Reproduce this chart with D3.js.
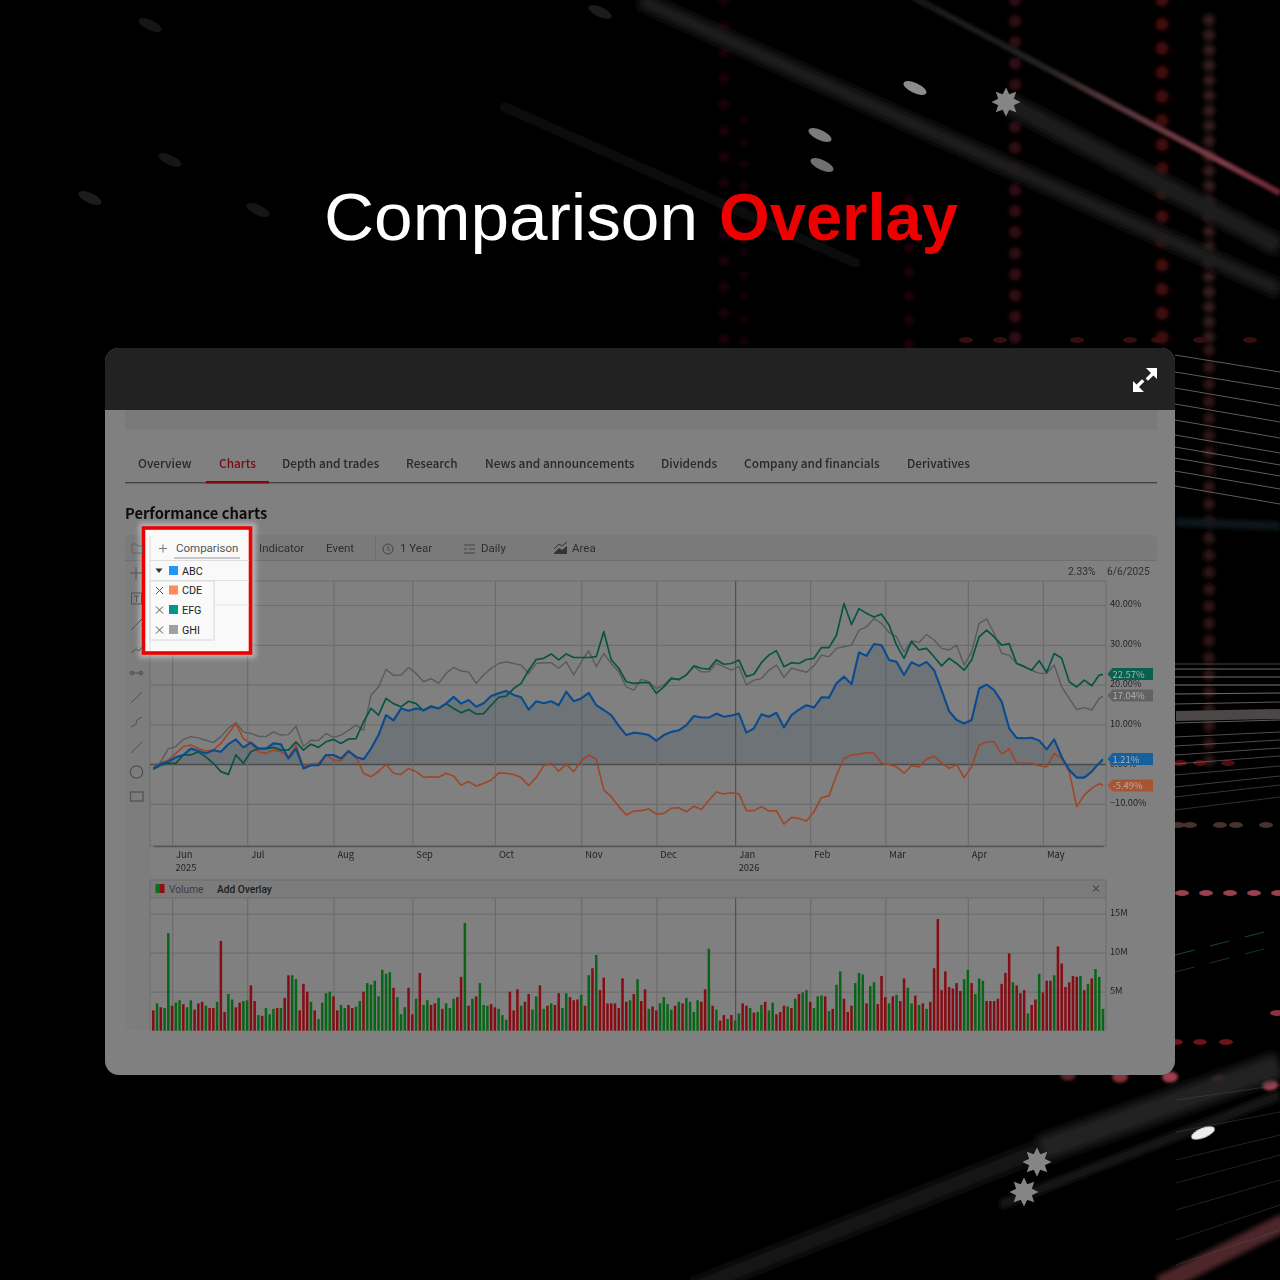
<!DOCTYPE html>
<html><head><meta charset="utf-8">
<script src="https://cdn.jsdelivr.net/npm/d3@7"></script>
<style>html,body{margin:0;padding:0;background:#000}svg{display:block}</style>
</head><body><div id="c"></div>
<script>
// ---------- chart data ----------
const abc=[-1.1,0,.6,1.7,2.3,3.9,3.3,2.7,3.5,3.1,5.0,6.2,4.2,5.4,3.9,3.9,5.2,5.0,1.4,3.9,-1.1,-.3,-.3,2.3,2.3,1.4,3.3,1.8,1.2,3.9,7.3,12.3,11.0,14.0,13.4,14.0,13.6,14.4,14.0,15.2,16.9,15.2,16.1,14.4,
15.3,17.1,17.8,18.4,17.4,16.8,13.7,15.8,15.3,15.8,14.8,18.2,15.8,16.5,17.9,14.8,13.6,12.3,9.6,7.3,7.9,7.7,7.3,5.9,7.3,8.1,8.5,9.8,12.1,11.7,11.7,12.7,11.9,12.2,12.7,7.9,9.0,12.5,11.9,12.9,9.2,12.3,13.7,
14.8,14.2,16.8,16.7,20.3,22.0,20.1,28.1,27.2,30.2,29.9,26.2,25.7,22.4,25.6,24.7,25.7,23.6,18.6,13.3,11.1,10.2,11.1,19.0,20.0,18.6,15.7,9.0,6.6,6.5,6.6,5.9,3.7,6.2,1.8,-1.5,-3.4,-3.4,-1.9,.3,1.2];
const ghi=[-1.1,.6,3.9,4.4,6.2,6.9,6.6,6.0,5.4,6.9,9.0,10.4,8.1,7.7,7.0,6.9,8.1,7.3,7.4,9.5,4.4,6.0,5.9,7.7,6.7,7.3,8.5,9.8,8.5,17.3,19.4,23.8,22.3,22.4,24.3,22.8,20.7,21.5,20.3,22.8,24.3,23.4,23.2,20.3,
22.4,24.1,25.3,25.7,25.3,24.9,22.8,25.3,25.5,25.5,24.1,25.7,22.4,25.7,28.5,24.5,27.8,25.3,23.2,19.4,18.6,21.3,20.7,19.0,19.9,21.8,21.1,22.4,24.5,23.2,23.2,25.3,24.5,23.6,24.6,19.9,21.1,21.5,23.6,24.9,21.8,24.1,23.6,
23.1,24.7,27.4,27.0,29.1,29.5,29.9,33.7,34.5,36.6,35.4,33.1,32.0,28.2,31.0,30.6,32.6,31.2,29.1,28.7,29.9,24.9,28.2,35.4,36.5,32.9,27.8,27.4,25.3,24.6,23.6,22.8,22.8,24.9,19.4,16.5,13.7,14.2,13.6,16.5,17.1];
const efg=[-1.3,-.3,.2,.2,2.3,2.3,3.1,1.8,.2,-1.9,-2.6,2.3,.2,3.1,3.9,3.9,4.2,3.5,3.5,5.6,3.5,5.0,4.2,5.6,6.2,5.2,6.3,6.4,10.6,14.0,12.3,16.5,15.2,14.4,15.8,15.2,13.4,14.6,14.0,15.2,14.0,12.9,13.7,12.6,
12.7,14.8,16.8,17.1,19.0,20.3,23.6,26.3,26.6,27.7,26.2,27.7,26.8,26.8,26.8,27.0,33.3,26.2,24.1,20.7,20.3,20.5,20.5,17.8,19.4,21.5,21.3,22.4,24.7,24.1,23.9,26.2,25.1,25.3,26.2,22.0,22.6,25.5,27.4,28.5,24.5,25.5,25.3,
26.3,26.6,29.3,29.3,32.4,40.4,35.1,39.1,37.9,37.0,37.7,35.0,29.9,26.6,30.8,28.7,29.1,27.0,24.7,26.6,25.3,23.6,26.2,32.0,33.7,32.0,29.9,30.3,25.3,24.5,23.6,26.0,23.1,27.8,26.6,20.7,19.4,21.1,19.7,22.4,22.5];
const cde=[-1.1,.2,1.0,2.7,4.4,4.8,3.9,3.3,3.5,5.2,7.7,10.2,6.4,5.2,3.1,2.7,3.5,3.1,1.8,4.8,-.8,0,.2,2.3,1.0,.8,3.1,1.8,-2.3,-3.2,-1.8,-.1,-2.3,-2.6,-1.1,-1.9,-3.3,-3.2,-3.3,-2.3,-3.0,-5.3,-4.4,-5.5,
-4.9,-4.0,-2.2,-2.3,-2.6,-3.4,-5.4,-3.4,-.4,.2,-1.8,0,-1.9,.8,2.3,1.2,-6.5,-8.2,-10.7,-12.8,-11.8,-11.7,-11.3,-12.6,-12.4,-11.1,-11.0,-12.0,-10.6,-11.4,-9.1,-7.0,-7.5,-7.2,-7.5,-11.7,-11.7,-10.7,-11.8,-11.7,-15.1,-13.4,-13.7,
-14.3,-12.0,-8.4,-8.0,-2.8,1.4,2.3,2.5,2.9,2.7,.2,-.1,-.7,-2.3,-.4,-.7,1.3,2.0,.3,-1.1,-.1,-3.4,-.7,4.8,5.6,5.6,2.5,3.8,.2,.2,.2,-.4,-.7,2.7,1.4,-1.9,-10.7,-7.8,-6.1,-4.9,-5.4];
// trading-day index of each series sample: every second session, plus the final session
const sessions=d3.range(0,253,2).concat([253]);
const volume=[2.6,3.5,3.0,2.9,12.5,3.2,3.6,3.9,3.4,3.0,3.9,2.7,3.5,3.7,3.2,2.9,2.9,3.7,11.5,2.4,4.7,4.0,3.0,3.6,3.8,3.9,5.8,3.8,2.0,1.9,2.9,2.1,2.8,2.9,2.9,4.2,7.1,7.1,6.6,2.6,6.0,5.0,3.7,2.6,1.5,3.6,4.8,5.0,4.4,2.6,3.3,2.9,3.3,2.9,3.1,3.8,5.0,6.1,5.9,6.4,4.4,7.8,7.3,7.5,5.5,4.3,2.1,3.0,5.5,2.1,4.1,7.4,3.3,3.9,3.3,3.5,4.2,2.8,3.5,2.9,4.1,4.3,6.9,13.8,3.2,4.1,4.4,6.1,3.3,3.2,3.4,3.0,2.8,2.0,1.4,5.0,2.6,5.3,3.2,3.7,4.7,2.7,4.4,5.8,2.8,3.2,3.5,3.3,4.8,2.9,4.8,4.3,3.9,4.0,4.6,3.2,7.1,8.0,9.7,5.2,6.8,3.5,3.5,3.5,2.9,6.7,3.7,3.9,4.7,6.6,3.8,5.3,2.8,3.1,2.6,3.5,4.3,3.4,2.7,3.2,3.7,3.5,4.2,3.7,2.4,3.9,3.7,5.3,10.5,3.2,2.7,1.3,2.0,1.5,2.0,1.3,2.2,3.5,3.2,2.9,2.3,2.4,3.3,3.7,2.6,3.6,2.1,2.4,3.2,3.1,2.9,4.1,4.7,4.9,5.2,3.7,2.9,4.4,4.5,4.4,2.5,2.8,5.9,7.6,4.1,2.4,3.2,6.1,7.4,7.2,3.5,5.7,6.2,3.4,7.0,4.3,3.5,4.4,4.6,3.8,6.7,5.5,3.5,4.5,3.3,3.5,2.8,3.7,8.0,14.3,5.2,7.6,5.6,5.4,6.1,5.1,6.6,7.8,6.1,4.7,6.7,6.4,3.8,3.8,3.8,4.1,6.0,7.4,9.9,6.2,5.8,4.8,5.2,2.2,3.3,4.0,7.3,4.9,6.4,6.4,7.1,10.8,8.6,5.6,6.2,7.0,6.9,7.0,5.2,6.0,6.7,7.9,6.9,2.8];
const volumeDir=["rgrggrggrg","grrrgrrgrr","ggrrggrrgr","gggrgrrggr","rrgrggggrr","ggrrggrggg","ggggrgggrr","grggrrgrgg","grrgrgrggg","rrgggrrrgr","rggrgrgrrg","grrrgrgrgr","rrrrrrrgrg","rrgrrggggr","grggggrrgr","grrgrggrrg","rggrggrrrg","rgrggrgggr","grggrrrggg","rggrrrgrgr","rggrgrgrrr","rrrrrrggrg","ggrrrrrrrg","rrrgrrgrrr","grrrrrrgrg","rggg"].join("");
const monthIdx=[5,25,48,69,91,114,134,155,175,195,217,237];
const monthLabels=["Jun","Jul","Aug","Sep","Oct","Nov","Dec","Jan","Feb","Mar","Apr","May"];
const pctTicks=[-10,0,10,20,30,40];
const volTicks=[5,10,15];
const tabs=["Overview","Charts","Depth and trades","Research","News and announcements","Dividends","Company and financials","Derivatives"];
const legendNames=["ABC","CDE","EFG","GHI"];
const legendColors=["#2196f3","#ff8a5c","#009688","#a0a0a0"];
const lineColors={abc:"#0a4a8e",cde:"#a04526",efg:"#065544",ghi:"#5a5a5a"};

const W=1280,svg=d3.select("#c").append("svg").attr("width",W).attr("height",W).attr("viewBox","0 0 1280 1280");
const defs=svg.append("defs");
[["b05",.7],["b1",1.6],["b2",2.8],["b3",4.5],["b4",7]].forEach(([id,s])=>defs.append("filter").attr("id",id).attr("filterUnits","userSpaceOnUse").attr("x",0).attr("y",0).attr("width",W).attr("height",W).append("feGaussianBlur").attr("stdDeviation",s));
const pg=defs.append("linearGradient").attr("id","pink").attr("gradientUnits","userSpaceOnUse").attr("x1",917).attr("y1",0).attr("x2",1280).attr("y2",193);
[[0,"#181818"],[.35,"#222"],[.5,"#4e3438"],[.85,"#803a46"],[1,"#6e2430"]].forEach(([o,c])=>pg.append("stop").attr("offset",o).attr("stop-color",c));

// ---------- backdrop ----------
svg.append("rect").attr("width",W).attr("height",W).attr("fill","#000");
const bg=svg.append("g");
// dotted red columns: x, y start, y end, dash gap, width, colour
[[724,0,345,26,11,"#1c0608"],[744,120,345,22,9,"#160507"],[909,200,345,24,10,"#200608"],[1015,0,345,21,12,"#361014"],[1162,0,345,24,13,"#440a0d"],[1209,20,345,15,12,"#361a1e"],[1209,350,770,17,12,"#2e1417"]]
.forEach(d=>bg.append("line").attr("x1",d[0]).attr("x2",d[0]).attr("y1",d[1]).attr("y2",d[2]).attr("stroke",d[5]).attr("stroke-width",d[4]).attr("stroke-linecap","round").attr("stroke-dasharray",`0.1 ${d[3]}`).attr("filter","url(#b2)"));
// scattered coloured dashes: y, colour, x list
[[340,"#380c10",[966,1000,1077,1130,1158,1200,1250]],[763,"#520a0e",[1180,1200,1228]],[825,"#46302f",[1178,1190,1220,1236,1266]],[893,"#94424e",[1182,1206,1230,1254,1278]],[1013,"#8c3240",[1277]],[1042,"#6a1219",[1176,1200,1226]]]
.forEach(d=>d[2].forEach(cx=>bg.append("ellipse").attr("cx",cx).attr("cy",d[0]).attr("rx",7).attr("ry",3).attr("fill",d[1]).attr("filter","url(#b05)")));
[[1068,1075,"#5a2028"],[1120,1077,"#83323e"],[1170,1077,"#a03e4e"],[1220,1081,"#a8404e"],[1270,1085,"#b04a5a"]].forEach(d=>bg.append("ellipse").attr("cx",d[0]).attr("cy",d[1]).attr("rx",8).attr("ry",5.5).attr("fill",d[2]).attr("filter","url(#b1)"));
// wide streaks
[[640,0,1280,290,16,"#1b1b1b","b3"],[1006,102,1280,247,20,"#1d1d1d","b3"],[900,-10,1280,193,6,"url(#pink)","b1"],[500,105,860,265,10,"#0b0b0b","b3"],[690,1290,1040,1150,18,"#191919","b3"],[1040,1150,1280,1065,26,"#242424","b3"],[1000,1205,1280,1095,10,"#181818","b2"],[1160,1285,1285,1222,18,"#4e252c","b2"],[1176,716,1280,714,10,"#4c4646","b05"],[1176,522,1280,526,9,"#0a171a","b2"]]
.forEach(d=>bg.append("line").attr("x1",d[0]).attr("y1",d[1]).attr("x2",d[2]).attr("y2",d[3]).attr("stroke",d[5]).attr("stroke-width",d[4]).attr("filter",`url(#${d[6]})`));
// fine light lines at the right edge
[[355,17],[372,17],[388,18],[404,18],[420,18],[435,18],[447,18],[458,18],[471,18],[486,18]].forEach(d=>bg.append("line").attr("x1",1175).attr("y1",d[0]).attr("x2",1280).attr("y2",d[0]+d[1]).attr("stroke","#8a8a8a").attr("stroke-width",.9).attr("opacity",.75));
[[664,664,.45],[669,669,.7],[677,677,.7],[685,685,.8],[694,693,.7],[704,702,.6],[723,720,.6],[737,732,.5],[746,740,.5],[755,748,.5],[764,756,.45],[775,766,.4],[787,776,.4],[797,785,.35],[810,797,.3]].forEach(d=>bg.append("line").attr("x1",1175).attr("y1",d[0]).attr("x2",1280).attr("y2",d[1]).attr("stroke","#aaa").attr("stroke-width",.9).attr("opacity",d[2]));
[[1100,1085],[1132,1112],[1160,1135],[1183,1155],[1210,1180],[1240,1205],[1265,1230]].forEach(d=>bg.append("line").attr("x1",1176).attr("y1",d[0]).attr("x2",1280).attr("y2",d[1]).attr("stroke","#555").attr("stroke-width",.8).attr("opacity",.5));
[[1175,955,1280,928,"#2c6a78"],[1175,972,1280,945,"#1f4e58"]].forEach(d=>bg.append("line").attr("x1",d[0]).attr("y1",d[1]).attr("x2",d[2]).attr("y2",d[3]).attr("stroke",d[4]).attr("stroke-width",1.1).attr("opacity",.6).attr("stroke-dasharray","20 16"));
// pale blurred pills (filter on the group so rotation does not shift its region)
const pills=bg.append("g").attr("filter","url(#b05)");
[[915,88,"#8c8c8c"],[820,135,"#7c7c7c"],[822,165,"#707070"],[600,12,"#1c1c1c"],[150,25,"#161616"],[170,160,"#141414"],[90,198,"#1c1c1c"],[258,210,"#191919"],[1203,1133,"#eee"]]
.forEach(d=>pills.append("ellipse").attr("cx",d[0]).attr("cy",d[1]).attr("rx",12.5).attr("ry",5).attr("fill",d[2]).attr("transform",`rotate(${d[0]>1100?-22:25} ${d[0]} ${d[1]})`));
// stars
const starPts=d3.range(16).map(i=>[i*Math.PI/8,i%2?8.5:14.5]);
const starPath=d3.lineRadial().curve(d3.curveLinearClosed)(starPts);
const stars=bg.append("g").attr("filter","url(#b05)");
[[1006,102],[1037,1162],[1024,1192]].forEach(p=>stars.append("path").attr("d",starPath).attr("transform",`translate(${p[0]},${p[1]})`).attr("fill","#858585"));

// ---------- title ----------
const sans="'Liberation Sans',Arial,sans-serif";
svg.append("text").attr("x",324).attr("y",240).attr("font-family",sans).attr("font-size",66).attr("fill","#fff").attr("textLength",374).attr("lengthAdjust","spacingAndGlyphs").text("Comparison");
svg.append("text").attr("x",719).attr("y",240).attr("font-family",sans).attr("font-size",66).attr("font-weight",700).attr("fill","#ee0000").attr("textLength",239).attr("lengthAdjust","spacingAndGlyphs").text("Overlay");

// ---------- panel ----------
const cjk="'Noto Sans CJK SC','Noto Sans',sans-serif",rob="Roboto,sans-serif";
svg.append("rect").attr("x",105).attr("y",348).attr("width",1070).attr("height",727).attr("rx",14).attr("fill","#808080");
svg.append("path").attr("d","M105 410V362a14 14 0 0 1 14-14H1161a14 14 0 0 1 14 14V410Z").attr("fill","#222");
svg.append("path").attr("d","M1146 368h11v11l-3.600-3.600-5.400 5.400-2.400-2.400 5.400-5.400Z M1144 392h-11v-11l3.600 3.600 5.400-5.400 2.400 2.400-5.400 5.400Z").attr("fill","#fff");
svg.append("rect").attr("x",125).attr("y",410).attr("width",1032).attr("height",20).attr("fill","#7a7a7a");
const tabX=[138,219,282,406,485,661,744,907];
tabs.forEach((t,i)=>svg.append("text").attr("x",tabX[i]).attr("y",468).attr("font-family",cjk).attr("font-size",11.85).attr("font-weight",500).attr("fill",i==1?"#7a0a0e":"#282828").text(t));
svg.append("rect").attr("x",125).attr("y",482).attr("width",1032).attr("height",1.4).attr("fill","#444");
svg.append("rect").attr("x",206).attr("y",481).attr("width",63).attr("height",2.4).attr("fill","#7e0a0e");
svg.append("text").attr("x",125).attr("y",518.5).attr("font-family",cjk).attr("font-size",14.7).attr("font-weight",700).attr("fill","#0c0c0c").text("Performance charts");

// chart shell
svg.append("rect").attr("x",125).attr("y",535).attr("width",1032).attr("height",495).attr("rx",6).attr("fill","#7d7d7d");
svg.append("rect").attr("x",125).attr("y",535).attr("width",1032).attr("height",25).attr("rx",5).attr("fill","#7a7a7a");
svg.append("rect").attr("x",150).attr("y",560).attr("width",1007).attr("height",470).attr("fill","#808080");
svg.append("line").attr("x1",125).attr("x2",1157).attr("y1",560.5).attr("y2",560.5).attr("stroke","#6e6e6e");
svg.append("line").attr("x1",375.5).attr("x2",375.5).attr("y1",536).attr("y2",560).attr("stroke","#6c6c6c");
[["Indicator",259],["Event",326],["1 Year",400],["Daily",481],["Area",572]].forEach(d=>svg.append("text").attr("x",d[1]).attr("y",552).attr("font-family",rob).attr("font-size",11.5).attr("fill","#2e2e2e").text(d[0]));
svg.append("circle").attr("cx",388).attr("cy",549).attr("r",5).attr("fill","none").attr("stroke","#444");
svg.append("path").attr("d","M388 546v3.400l2 1.200").attr("fill","none").attr("stroke","#444");
svg.append("path").attr("d","M464 545h11M464 549h3M469 549h6M464 553h11").attr("stroke","#444").attr("fill","none");
svg.append("path").attr("d","M554 553l5-5 3 2 5-4v8h-13Z").attr("fill","#333");
svg.append("path").attr("d","M554 549l5-5 3 2 5-4").attr("fill","none").attr("stroke","#333");
svg.append("text").attr("x",1068).attr("y",575).attr("font-family",rob).attr("font-size",10.3).attr("fill","#2e2e2e").text("2.33%");
svg.append("text").attr("x",1107).attr("y",575).attr("font-family",rob).attr("font-size",10.2).attr("fill","#2e2e2e").text("6/6/2025");

// ---------- scales ----------
const xBottom=1106, plotTop=581, plotBot=846, volTop=898, volBot=1030.7;
const x=d3.scaleLinear().domain([0,253]).range([153.3,1103]);
const y=d3.scaleLinear().domain([-20.6,46.04]).range([plotBot,plotTop]);
const yV=d3.scaleLinear().domain([0,17]).range([volBot,volTop]);
const plot=svg.append("g");
plot.append("rect").attr("x",150).attr("y",plotTop).attr("width",xBottom-150).attr("height",plotBot-plotTop).attr("fill","none").attr("stroke","#6a6a6a");

// price axes
const axisY=d3.axisRight(y).tickValues(pctTicks).tickSize(0).tickPadding(4).tickFormat(d=>d3.format(".2f")(d)+"%");
const gy=plot.append("g").attr("transform",`translate(${xBottom},-1)`).call(axisY);
gy.select(".domain").remove();
gy.selectAll("text").attr("font-family",cjk).attr("font-size",9.2).attr("fill","#222");
const gridY=plot.append("g").attr("transform",`translate(150,0)`).call(d3.axisRight(y).tickValues(pctTicks).tickSize(xBottom-150).tickFormat(""));
gridY.select(".domain").remove();gridY.selectAll("line").attr("stroke",d=>d===0?"#4a4a4a":"#6e6e6e").attr("stroke-width",d=>d===0?1.5:1.2);
const gridX=plot.append("g").attr("transform",`translate(0,${plotBot})`).call(d3.axisTop(x).tickValues(monthIdx).tickSize(plotBot-plotTop).tickFormat(""));
gridX.select(".domain").remove();gridX.selectAll("line").attr("stroke",(d,i)=>i==7?"#505050":"#6c6c6c").attr("stroke-width",1.2);
const axisX=d3.axisBottom(x).tickValues(monthIdx).tickSize(0).tickPadding(5).tickFormat((d,i)=>monthLabels[i]);
const gx=plot.append("g").attr("transform",`translate(0,${plotBot})`).call(axisX);
gx.select(".domain").attr("stroke","#555").attr("stroke-width",1.3);
gx.selectAll("text").attr("font-family",cjk).attr("font-size",9.4).attr("fill","#222").attr("text-anchor","start").attr("dx",3.5);
[[5,"2025"],[155,"2026"]].forEach(d=>plot.append("text").attr("x",x(d[0])+3.5).attr("y",871).attr("font-family",cjk).attr("font-size",9.4).attr("fill","#222").text(d[1]));

// area and lines
const pts=a=>a.map((v,k)=>[sessions[k],v]);
plot.append("path").attr("d",d3.area().x(d=>x(d[0])).y0(y(0)).y1(d=>y(d[1]))(pts(abc))).attr("fill","#3f5264").attr("fill-opacity",.27);
const line=d3.line().x(d=>x(d[0])).y(d=>y(d[1]));
[["ghi",ghi,1.4],["cde",cde,1.6],["efg",efg,1.7],["abc",abc,2.1]].forEach(([k,a,w])=>plot.append("path").attr("d",line(pts(a))).attr("fill","none").attr("stroke",lineColors[k]).attr("stroke-width",w).attr("stroke-linejoin","round"));
// value flags
[[674,"22.57%","#09604f"],[695.5,"17.04%","#626262"],[759,"1.21%","#15609f"],[785.5,"-5.49%","#a85430"]].forEach(d=>{
  const g=plot.append("g").attr("transform",`translate(0,${d[0]})`);
  g.append("path").attr("d","M1107.500 0l5-6h40.500v12h-40.500Z").attr("fill",d[2]);
  g.append("text").attr("x",1112.500).attr("y",3.6).attr("font-family",cjk).attr("font-size",9.4).attr("fill","#b0b0b0").text(d[1]);
});

// volume pane
const vp=svg.append("g");
vp.append("rect").attr("x",150).attr("y",880).attr("width",xBottom-150).attr("height",18).attr("fill","#7b7b7b").attr("stroke","#6c6c6c");
vp.append("rect").attr("x",155.500).attr("y",884).attr("width",4.500).attr("height",9).attr("fill","#0c6e1b");
vp.append("rect").attr("x",160).attr("y",884).attr("width",4.500).attr("height",9).attr("fill","#900e16");
vp.append("text").attr("x",169).attr("y",893).attr("font-family",rob).attr("font-size",10.2).attr("fill","#3c3c3c").text("Volume");
vp.append("text").attr("x",217).attr("y",893).attr("font-family",rob).attr("font-size",10.2).attr("font-weight",500).attr("fill","#1c1c1c").text("Add Overlay");
vp.append("path").attr("d","M1093 885.500l6 6M1099 885.500l-6 6").attr("stroke","#2c2c2c").attr("fill","none");
vp.append("line").attr("x1",xBottom).attr("x2",xBottom).attr("y1",volTop).attr("y2",volBot).attr("stroke","#6a6a6a");
vp.append("line").attr("x1",150).attr("x2",150).attr("y1",volTop).attr("y2",volBot).attr("stroke","#6e6e6e");
const vGridY=vp.append("g").attr("transform","translate(150,0)").call(d3.axisRight(yV).tickValues(volTicks).tickSize(xBottom-150).tickFormat(""));
vGridY.select(".domain").remove();vGridY.selectAll("line").attr("stroke","#6e6e6e").attr("stroke-width",1.2);
const vGridX=vp.append("g").attr("transform",`translate(0,${volBot})`).call(d3.axisTop(x).tickValues(monthIdx).tickSize(volBot-volTop).tickFormat(""));
vGridX.select(".domain").remove();vGridX.selectAll("line").attr("stroke",(d,i)=>i==7?"#505050":"#6c6c6c").attr("stroke-width",1.2);
const vAx=vp.append("g").attr("transform",`translate(${xBottom},-1)`).call(d3.axisRight(yV).tickValues(volTicks).tickSize(0).tickPadding(4).tickFormat(d=>d+"M"));
vAx.select(".domain").remove();vAx.selectAll("text").attr("font-family",cjk).attr("font-size",9.2).attr("fill","#222");
vp.selectAll("rect.bar").data(volume).join("rect").attr("class","bar")
  .attr("x",(d,i)=>x(i)-1.25).attr("width",2.5).attr("y",d=>yV(d)).attr("height",d=>yV(0)-yV(d))
  .attr("fill",(d,i)=>volumeDir[i]==="g"?"#086416":"#850c13");

// ---------- highlighted comparison box ----------
const h=svg.append("g");
h.append("rect").attr("x",139).attr("y",523).attr("width",117).attr("height",135).attr("fill","#fff").attr("opacity",.4).attr("filter","url(#b2)");
h.append("rect").attr("x",143.500).attr("y",528).attr("width",107).attr("height",125).attr("fill","#f9f9f9").attr("stroke","#ee0000").attr("stroke-width",3.6);
h.append("line").attr("x1",150).attr("x2",150).attr("y1",536).attr("y2",651).attr("stroke","#dcdcdc");
h.append("line").attr("x1",150).attr("x2",249).attr("y1",560.5).attr("y2",560.5).attr("stroke","#dedede");
h.append("line").attr("x1",150).attr("x2",249).attr("y1",580.5).attr("y2",580.5).attr("stroke","#e2e2e2");
h.append("line").attr("x1",214).attr("x2",249).attr("y1",605).attr("y2",605).attr("stroke","#e6e6e6");
h.append("rect").attr("x",174).attr("y",557).attr("width",66).attr("height",2).attr("fill","#c8c8c8");
h.append("path").attr("d","M163 544.500v8M159 548.500h8").attr("stroke","#777").attr("fill","none");
h.append("text").attr("x",176).attr("y",552).attr("font-family",rob).attr("font-size",11.5).attr("fill","#555").text("Comparison");
h.append("rect").attr("x",150).attr("y",581).attr("width",64).attr("height",59).attr("fill","#fafafa").attr("stroke","#d8d8d8");
h.append("path").attr("d","M155.500 568.500h7l-3.500 4.500Z").attr("fill","#333");
legendNames.forEach((n,i)=>{
  const cy=[570.500,590,609.500,629.500][i];
  h.append("rect").attr("x",169).attr("y",cy-4.500).attr("width",9).attr("height",9).attr("fill",legendColors[i]);
  h.append("text").attr("x",182).attr("y",cy+4).attr("font-family",rob).attr("font-size",10.800).attr("fill","#222").text(n);
  if(i>0)h.append("path").attr("d",`M156 ${cy-3}l7 7M163 ${cy-3}l-7 7`).attr("stroke","#555").attr("fill","none");
});

// tool rail (on top of the soft glow)
const rail=svg.append("g").attr("fill","none").attr("stroke","#505050").attr("stroke-width",1);
rail.append("path").attr("d","M132 544h4l1.500 2h5v7h-10.500Z").attr("opacity",.6);
rail.append("path").attr("d","M136 567v13M130 573h13");
rail.append("path").attr("d","M131.500 593h10v11h-10ZM134 596h5M136.500 596v6");
rail.append("path").attr("d","M131 630l11-11");
rail.append("path").attr("d","M131 653l5-4 3 2 4-5");
rail.append("path").attr("d","M130 673h13");rail.append("circle").attr("cx",132).attr("cy",673).attr("r",1.8);rail.append("circle").attr("cx",141).attr("cy",673).attr("r",1.8);
rail.append("path").attr("d","M131 703l11-11");
rail.append("path").attr("d","M131 727l5-3 1-4 5-3");
rail.append("path").attr("d","M131 753l11-11");
rail.append("circle").attr("cx",136.500).attr("cy",772).attr("r",6.2).attr("stroke-width",1.2);
rail.append("rect").attr("x",130.500).attr("y",792).attr("width",12.500).attr("height",9).attr("stroke-width",1.2);
</script></body></html>
